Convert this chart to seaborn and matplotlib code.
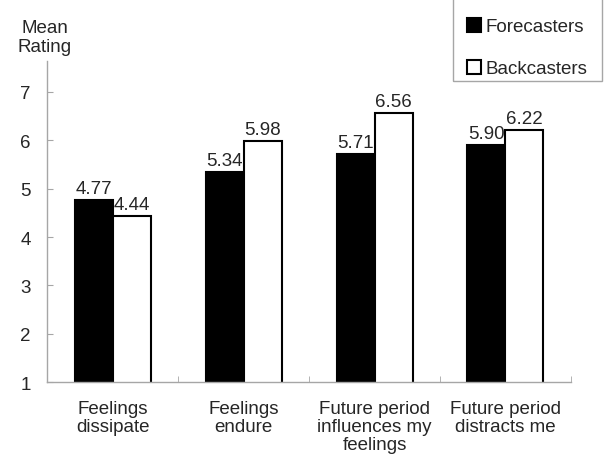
import pandas as pd
import matplotlib
matplotlib.use("Agg")
import matplotlib.pyplot as plt
from matplotlib.patches import Rectangle
import seaborn as sns

# values
items = ["Feelings\ndissipate", "Feelings\nendure",
         "Future period\ninfluences my\nfeelings", "Future period\ndistracts me"]
forecasters = [4.77, 5.34, 5.71, 5.90]
backcasters = [4.44, 5.98, 6.56, 6.22]
groups = ["Forecasters", "Backcasters"]

df = pd.DataFrame({
    "Item": items * 2,
    "Rating": forecasters + backcasters,
    "Group": [groups[0]] * 4 + [groups[1]] * 4,
})

sns.set_style("white")
plt.rcParams["font.family"] = ["Liberation Sans", "DejaVu Sans"]
fs = 13.5
plt.rcParams["font.size"] = fs

fig = plt.figure(figsize=(6.08, 4.6), dpi=100)
ax = fig.add_axes([0.0778, 0.1667, 0.8612, 0.699])

sns.barplot(data=df, x="Item", y="Rating", hue="Group", palette=["black", "white"],
            edgecolor="black", linewidth=1.5, width=0.58, gap=0, ax=ax)

for cont in ax.containers:
    ax.bar_label(cont, fmt="%.2f", padding=2, fontsize=fs)

ax.set_ylim(1, 7.64)
ax.set_xlim(-0.5, 3.5)
ax.set_yticks(range(1, 8))
ax.set_xlabel("")
ax.set_ylabel("")

gray = "#a6a6a6"
for s in ["top", "right"]:
    ax.spines[s].set_visible(False)
for s in ["left", "bottom"]:
    ax.spines[s].set_color(gray)
    ax.spines[s].set_linewidth(1.0)

ax.tick_params(axis="y", direction="in", length=4, color=gray, pad=12, labelsize=fs, left=True)
ax.tick_params(axis="x", which="major", length=0, pad=13, labelsize=fs)
for lab in ax.get_xticklabels():
    lab.set_linespacing(1.05)
ax.set_xticks([-0.5, 0.5, 1.5, 2.5, 3.5], minor=True)
ax.tick_params(axis="x", which="minor", direction="in", length=4, color=gray, bottom=True)

fig.text(45 / 608, 1 - 38 / 460, "Mean\nRating", ha="center", va="center",
         fontsize=fs, linespacing=1.2)

# legend, frame drawn separately (its top runs off the figure in the reference)
ax.legend(loc="upper left", bbox_to_anchor=(467 / 608, 1 - 19 / 460), bbox_transform=fig.transFigure,
          frameon=False, fontsize=fs, handlelength=0.75, handleheight=0.75,
          handletextpad=0.25, labelspacing=1.3, borderpad=0, borderaxespad=0)
fig.patches.append(Rectangle((453 / 608, 1 - 82 / 460), 149 / 608, 90 / 460,
                             transform=fig.transFigure, fill=False, edgecolor=gray, lw=1.0))

fig.savefig("out.png", dpi=100)
